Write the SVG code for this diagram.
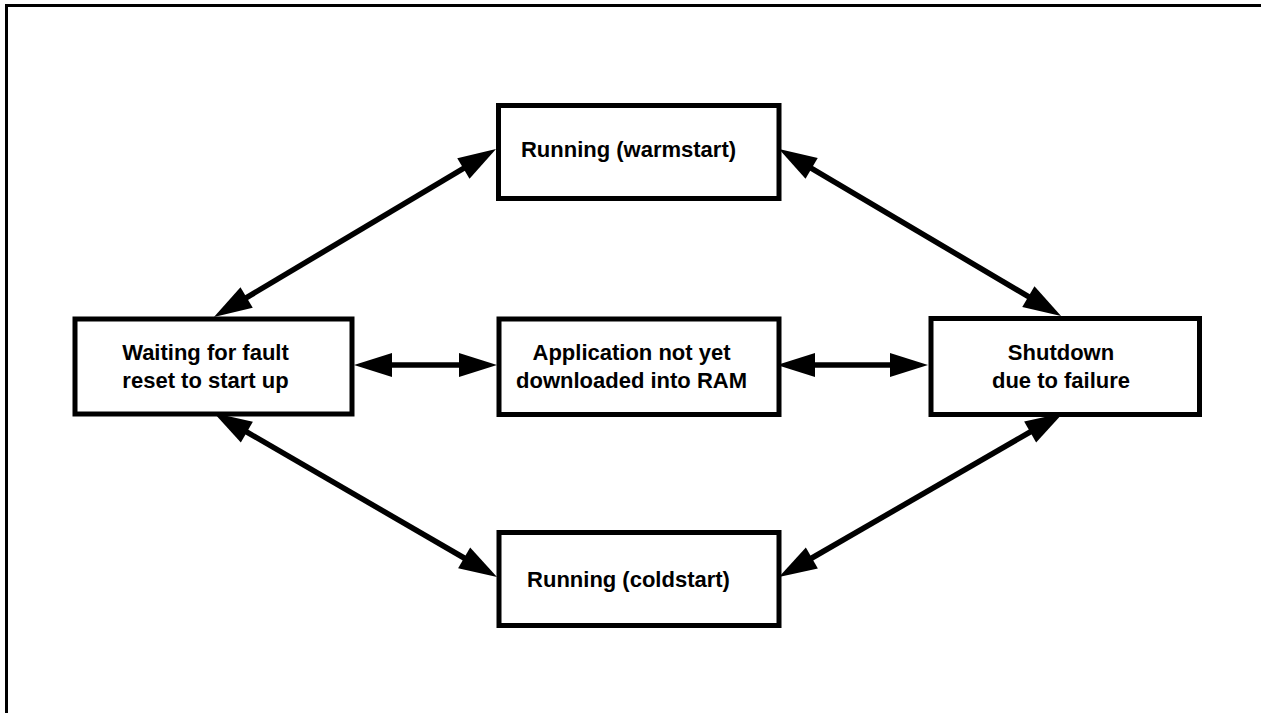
<svg xmlns="http://www.w3.org/2000/svg" width="1261" height="713" viewBox="0 0 1261 713">
<style>
.box{fill:#fff;stroke:#000;stroke-width:5}
.lbl{font-family:"Liberation Sans",Arial,Helvetica,sans-serif;font-weight:bold;font-size:22px;fill:#000;text-anchor:middle}
.conn{stroke:#000;stroke-width:5.5;fill:none;marker-start:url(#ah);marker-end:url(#ah)}
</style>
<defs>
<marker id="ah" markerUnits="userSpaceOnUse" markerWidth="38" markerHeight="24" refX="7" refY="12" orient="auto-start-reverse" overflow="visible">
<path d="M0,0 L38,12 L0,24 Z" fill="#000"/>
</marker>
</defs>
<rect width="1261" height="713" fill="#fff"/>
<path d="M6.5,713 V5.5 H1261" fill="none" stroke="#000" stroke-width="3"/>
<g id="connectors">
<line class="conn" x1="240.6" y1="301.1" x2="469.4" y2="164.9"/>
<line class="conn" x1="805.6" y1="164.8" x2="1034.4" y2="300.2"/>
<line class="conn" x1="240.8" y1="428.5" x2="470.2" y2="561.5"/>
<line class="conn" x1="805.8" y1="561.5" x2="1036.2" y2="428.5"/>
<line class="conn" x1="385" y1="365" x2="466" y2="365"/>
<line class="conn" x1="808" y1="365" x2="897" y2="365"/>
</g>
<g id="warmstart">
<rect class="box" x="498.5" y="105.5" width="280.5" height="93"/>
<text class="lbl" x="628.5" y="157">Running (warmstart)</text>
</g>
<g id="waiting">
<rect class="box" x="75" y="319" width="277" height="95"/>
<text class="lbl" x="205.5" y="359.5">Waiting for fault</text>
<text class="lbl" x="205.5" y="387.5">reset to start up</text>
</g>
<g id="notdownloaded">
<rect class="box" x="499" y="319" width="280" height="95.5"/>
<text class="lbl" x="631.5" y="359.5">Application not yet</text>
<text class="lbl" x="631.5" y="387.5">downloaded into RAM</text>
</g>
<g id="shutdown">
<rect class="box" x="931" y="318.5" width="268.5" height="96"/>
<text class="lbl" x="1061" y="359.5">Shutdown</text>
<text class="lbl" x="1061" y="387.5">due to failure</text>
</g>
<g id="coldstart">
<rect class="box" x="499" y="532.5" width="280" height="93"/>
<text class="lbl" x="628.5" y="587">Running (coldstart)</text>
</g>
</svg>
